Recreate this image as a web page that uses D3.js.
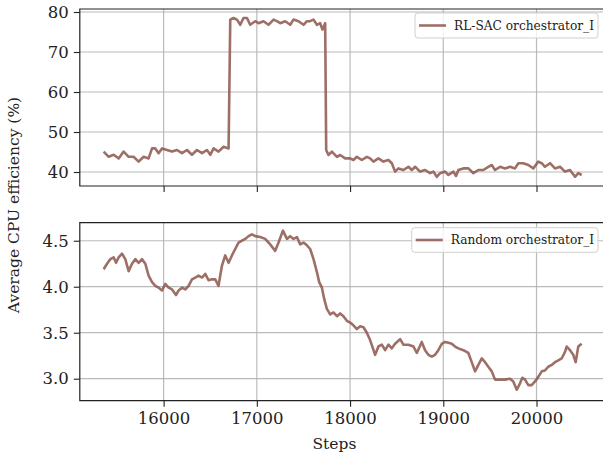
<!DOCTYPE html>
<html>
<head>
<meta charset="utf-8">
<script src="https://cdn.jsdelivr.net/npm/d3@7"></script>
<style>
  html, body { margin: 0; padding: 0; background: #fff; }
  svg { display: block; font-family: "DejaVu Serif", serif; }
</style>
</head>
<body>
<svg id="chart" width="603" height="457"></svg>
<script>
// ---- data ----
const sacSteps = [15357,15411,15464,15518,15571,15625,15678,15732,15786,15839,15876,15911,15946,15983,16036,16090,16144,16197,16251,16304,16358,16412,16465,16501,16536,16589,16643,16697,16715,16750,16787,16822,16857,16894,16929,16983,17018,17072,17125,17179,17215,17251,17304,17358,17393,17447,17501,17537,17572,17608,17644,17679,17704,17733,17744,17768,17805,17859,17894,17947,18001,18036,18073,18126,18180,18215,18251,18304,18358,18412,18448,18483,18519,18572,18626,18662,18698,18751,18805,18858,18894,18930,18966,19019,19055,19108,19137,19162,19215,19269,19323,19376,19430,19483,19520,19555,19609,19662,19716,19769,19805,19858,19912,19966,20019,20056,20091,20145,20198,20252,20305,20359,20413,20448,20484];
const sacValues = [45.1,43.8,44.3,43.4,45.1,43.8,43.8,42.6,43.8,43.4,45.9,45.9,44.7,45.9,45.5,45.1,45.5,44.7,45.5,44.3,45.5,44.7,45.5,44.3,45.9,45.1,46.3,45.9,78.1,78.5,78.1,76.8,78.5,78.5,76.8,77.7,77.2,77.7,76.8,78.1,77.7,77.2,77.7,76.8,78.1,77.7,76.8,77.7,77.7,78.1,76.8,77.2,75.6,77.2,45.5,44.25,45.1,43.8,44.25,43.4,43.4,43.0,43.8,43.0,43.8,43.4,42.6,43.4,42.6,43.0,42.2,40.1,40.9,40.5,41.3,40.5,41.3,40.1,40.5,39.7,40.1,38.8,39.7,40.1,39.25,40.1,39.0,40.5,40.9,40.9,39.7,40.5,40.5,41.3,41.75,40.5,41.3,40.9,41.3,40.9,42.2,42.2,41.75,40.9,42.6,42.2,41.3,42.2,40.9,41.3,40.1,40.5,38.8,39.7,39.25];

const rndSteps = [15357,15393,15429,15464,15490,15518,15554,15589,15625,15661,15697,15732,15768,15804,15839,15876,15911,15946,15983,16018,16054,16090,16133,16161,16197,16233,16268,16304,16340,16375,16412,16447,16482,16519,16554,16589,16626,16661,16697,16733,16768,16804,16840,16876,16911,16947,16983,17036,17090,17143,17197,17233,17280,17323,17358,17393,17430,17465,17501,17537,17572,17608,17644,17669,17698,17722,17751,17787,17822,17859,17894,17929,17966,18001,18036,18073,18108,18144,18180,18215,18269,18304,18341,18376,18412,18448,18483,18537,18572,18626,18680,18716,18769,18805,18840,18877,18912,18947,18984,19019,19055,19091,19126,19162,19215,19269,19305,19341,19376,19413,19448,19483,19520,19555,19609,19662,19716,19751,19788,19823,19848,19877,19912,19948,19984,20019,20056,20091,20126,20163,20198,20234,20270,20305,20324,20359,20394,20420,20448,20484];
const rndValues = [4.19,4.25,4.30,4.32,4.26,4.32,4.36,4.30,4.17,4.25,4.30,4.26,4.30,4.25,4.12,4.05,4.01,3.99,3.96,4.03,3.99,3.97,3.91,3.96,3.99,3.97,4.01,4.08,4.10,4.12,4.10,4.14,4.07,4.08,4.08,4.01,4.23,4.34,4.26,4.34,4.41,4.48,4.50,4.52,4.55,4.57,4.55,4.54,4.52,4.46,4.39,4.48,4.61,4.52,4.55,4.52,4.54,4.46,4.48,4.45,4.41,4.30,4.16,4.05,3.99,3.87,3.76,3.70,3.72,3.68,3.71,3.68,3.63,3.61,3.58,3.54,3.57,3.56,3.50,3.42,3.26,3.35,3.37,3.31,3.37,3.33,3.38,3.43,3.37,3.37,3.35,3.28,3.40,3.31,3.26,3.24,3.26,3.31,3.38,3.40,3.39,3.38,3.35,3.33,3.31,3.28,3.18,3.08,3.15,3.22,3.18,3.13,3.08,2.99,2.99,2.99,3.00,2.97,2.88,2.95,3.01,2.99,2.93,2.93,2.97,3.02,3.08,3.09,3.13,3.15,3.18,3.20,3.22,3.29,3.35,3.31,3.26,3.18,3.35,3.38];

const xTicks = [16000, 17000, 18000, 19000, 20000];
const topYTicks = [40, 50, 60, 70, 80];
const botYTicks = [3.0, 3.5, 4.0, 4.5];
const sacLabel = "RL-SAC orchestrator_I";
const rndLabel = "Random orchestrator_I";
const xLabel = "Steps";
const yLabel = "Average CPU efficiency (%)";

// ---- layout ----
const svg = d3.select("#chart");
const left = 79.8, right = 605.5;
const lineColor = "#8c564b";

const x = d3.scaleLinear().domain([15101, 20740]).range([left, right]);

const panels = [
  { top: 9, bottom: 186, domain: [36.5, 80.75], ticks: topYTicks, fmt: d3.format("d"),
    steps: sacSteps, values: sacValues, label: sacLabel, showX: false,
    legend: { x0: 415, x1: 598, y0: 13, y1: 38 } },
  { top: 222.7, bottom: 400.7, domain: [2.761, 4.696], ticks: botYTicks, fmt: d3.format(".1f"),
    steps: rndSteps, values: rndValues, label: rndLabel, showX: true,
    legend: { x0: 411.7, x1: 598, y0: 227.7, y1: 252.3 } }
];

panels.forEach(p => {
  const y = d3.scaleLinear().domain(p.domain).range([p.bottom, p.top]);
  const g = svg.append("g");

  // grid
  g.append("g").selectAll("line.vg").data(xTicks).join("line")
    .attr("x1", d => x(d)).attr("x2", d => x(d))
    .attr("y1", p.top).attr("y2", p.bottom)
    .attr("stroke", "#b0b0b0").attr("stroke-width", 1.2).attr("opacity", 0.85);
  g.append("g").selectAll("line.hg").data(p.ticks).join("line")
    .attr("x1", left).attr("x2", right)
    .attr("y1", d => y(d)).attr("y2", d => y(d))
    .attr("stroke", "#b0b0b0").attr("stroke-width", 1.2).attr("opacity", 0.85);

  // line
  const data = p.steps.map((s, i) => [s, p.values[i]]);
  g.append("path").datum(data)
    .attr("fill", "none").attr("stroke", lineColor).attr("stroke-width", 2.6)
    .attr("stroke-opacity", 0.85).attr("stroke-linejoin", "round")
    .attr("d", d3.line().x(d => x(d[0])).y(d => y(d[1])));

  // axes
  const ya = g.append("g").attr("transform", `translate(${left},0)`)
    .call(d3.axisLeft(y).tickValues(p.ticks).tickFormat(p.fmt).tickSize(6).tickPadding(5).tickSizeOuter(0));
  ya.select(".domain").remove();
  ya.selectAll("line").attr("stroke", "#222").attr("stroke-width", 1.1);
  ya.selectAll("text").attr("font-size", "16.5px").attr("fill", "#222").attr("font-family", "DejaVu Serif");

  const xa = g.append("g").attr("transform", `translate(0,${p.bottom})`)
    .call(d3.axisBottom(x).tickValues(xTicks).tickFormat(p.showX ? d3.format("d") : () => "").tickSize(6).tickPadding(6).tickSizeOuter(0));
  xa.select(".domain").remove();
  xa.selectAll("line").attr("stroke", "#222").attr("stroke-width", 1.1);
  xa.selectAll("text").attr("font-size", "16.5px").attr("fill", "#222").attr("font-family", "DejaVu Serif");

  // spines
  g.append("path")
    .attr("d", `M${right},${p.top}H${left}V${p.bottom}H${right}`)
    .attr("fill", "none").attr("stroke", "#222").attr("stroke-width", 1.2);

  // legend
  const L = p.legend;
  g.append("rect").attr("x", L.x0).attr("y", L.y0)
    .attr("width", L.x1 - L.x0).attr("height", L.y1 - L.y0)
    .attr("rx", 3).attr("fill", "white").attr("fill-opacity", 0.8)
    .attr("stroke", "#d0d0d0").attr("stroke-width", 1);
  const ly = (L.y0 + L.y1) / 2;
  g.append("line").attr("x1", L.x0 + 4).attr("x2", L.x0 + 31)
    .attr("y1", ly).attr("y2", ly)
    .attr("stroke", lineColor).attr("stroke-width", 2.6).attr("stroke-opacity", 0.85);
  g.append("text").attr("x", L.x0 + 39).attr("y", ly).attr("dy", "0.35em")
    .attr("font-size", "12.2px").attr("fill", "#222").text(p.label);
});

// labels
svg.append("text").attr("x", 334.4).attr("y", 449)
  .attr("text-anchor", "middle").attr("font-size", "15.5px").attr("fill", "#222").text(xLabel);
svg.append("text").attr("transform", "translate(19,205) rotate(-90)")
  .attr("text-anchor", "middle").attr("font-size", "15.5px").attr("fill", "#222").text(yLabel);
</script>
</body>
</html>
